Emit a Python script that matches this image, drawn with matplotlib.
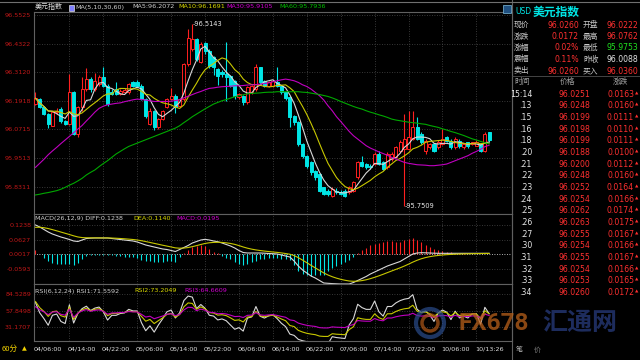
import numpy as np
import pandas as pd
import matplotlib
matplotlib.use("Agg")
import matplotlib.pyplot as plt
from matplotlib.patches import Rectangle, Ellipse

plt.rcParams['font.family'] = ['DejaVu Sans', 'Noto Sans CJK SC']
CJK = ['Noto Sans CJK SC', 'DejaVu Sans']

# 60-minute candles, USD index
opens = [96.178, 96.199, 96.166, 96.136, 96.087, 96.143, 96.157, 96.108, 96.094, 96.227,
         96.052, 96.164, 96.241, 96.283, 96.241, 96.262, 96.290, 96.255, 96.227, 96.241,
         96.220, 96.230, 96.227, 96.269, 96.269, 96.255, 96.199, 96.094, 96.150, 96.080,
         96.115, 96.164, 96.199, 96.213, 96.171, 96.199, 96.345, 96.410, 96.450, 96.353,
         96.436, 96.400, 96.374, 96.325, 96.311, 96.304, 96.297, 96.273, 96.206, 96.213,
         96.185, 96.227, 96.241, 96.332, 96.276, 96.255, 96.255, 96.269, 96.255, 96.227,
         96.206, 96.129, 96.101, 96.010, 95.961, 95.933, 95.898, 95.884, 95.828, 95.814,
         95.793, 95.814, 95.807, 95.814, 95.807, 95.814, 95.870, 95.933, 95.926, 95.919,
         95.926, 95.968, 95.933, 95.912, 95.947, 95.954, 95.982, 95.990, 95.989, 96.031,
         96.080, 96.052, 95.982, 95.996, 96.010, 95.996, 96.010, 96.038, 96.024, 95.996,
         96.024, 95.996, 96.017, 96.010, 96.003, 96.010, 95.982, 96.059]
closes = [96.202, 96.164, 96.136, 96.094, 96.143, 96.150, 96.108, 96.094, 96.227, 96.052,
          96.164, 96.241, 96.283, 96.241, 96.276, 96.290, 96.255, 96.178, 96.220, 96.220,
          96.234, 96.238, 96.262, 96.255, 96.255, 96.199, 96.129, 96.150, 96.080, 96.115,
          96.150, 96.199, 96.213, 96.164, 96.199, 96.345, 96.457, 96.450, 96.367, 96.430,
          96.400, 96.339, 96.332, 96.297, 96.304, 96.290, 96.255, 96.213, 96.220, 96.185,
          96.248, 96.255, 96.332, 96.269, 96.255, 96.269, 96.276, 96.255, 96.227, 96.203,
          96.122, 96.101, 96.010, 95.961, 95.919, 95.891, 95.870, 95.814, 95.800, 95.800,
          95.821, 95.807, 95.800, 95.793, 95.828, 95.849, 95.933, 95.919, 95.912, 95.912,
          95.968, 95.926, 95.905, 95.968, 95.968, 95.996, 96.017, 96.031, 96.038, 96.080,
          96.031, 96.017, 96.024, 96.010, 95.982, 96.017, 96.031, 96.024, 95.996, 96.031,
          96.003, 96.010, 96.003, 96.017, 96.017, 95.982, 96.052, 96.026]
highs = [96.229, 96.205, 96.170, 96.140, 96.150, 96.160, 96.165, 96.112, 96.305, 96.232,
         96.170, 96.290, 96.331, 96.290, 96.310, 96.300, 96.332, 96.262, 96.240, 96.272,
         96.240, 96.245, 96.268, 96.275, 96.280, 96.262, 96.205, 96.160, 96.155, 96.120,
         96.155, 96.205, 96.245, 96.220, 96.205, 96.350, 96.492, 96.5143, 96.455, 96.440,
         96.440, 96.410, 96.380, 96.330, 96.320, 96.437, 96.300, 96.280, 96.225, 96.215,
         96.255, 96.260, 96.345, 96.335, 96.280, 96.275, 96.280, 96.332, 96.260, 96.230,
         96.210, 96.130, 96.105, 96.015, 95.965, 95.940, 95.900, 95.890, 95.830, 95.820,
         95.830, 95.825, 95.815, 95.820, 95.835, 95.855, 95.940, 95.961, 95.930, 95.925,
         95.975, 95.980, 95.940, 95.975, 95.975, 96.000, 96.025, 96.136, 96.150, 96.150,
         96.122, 96.060, 96.030, 96.015, 96.015, 96.025, 96.073, 96.045, 96.030, 96.040,
         96.030, 96.015, 96.020, 96.020, 96.025, 96.015, 96.060, 96.062]
lows = [96.175, 96.160, 96.130, 96.076, 96.085, 96.135, 96.100, 96.088, 96.090, 96.050,
        96.040, 96.150, 96.235, 96.230, 96.235, 96.255, 96.250, 96.170, 96.215, 96.215,
        96.215, 96.225, 96.222, 96.250, 96.250, 96.195, 96.120, 96.090, 96.070, 96.075,
        96.110, 96.160, 96.195, 96.140, 96.165, 96.190, 96.340, 96.400, 96.360, 96.350,
        96.390, 96.330, 96.300, 96.260, 96.290, 96.190, 96.250, 96.200, 96.200, 96.175,
        96.180, 96.220, 96.235, 96.260, 96.250, 96.250, 96.250, 96.250, 96.220, 96.195,
        96.080, 96.090, 96.000, 95.950, 95.910, 95.880, 95.860, 95.810, 95.795, 95.790,
        95.788, 95.800, 95.795, 95.787, 95.800, 95.810, 95.865, 95.915, 95.905, 95.905,
        95.920, 95.920, 95.900, 95.905, 95.940, 95.950, 95.975, 95.7509, 95.985, 96.025,
        96.025, 96.010, 95.970, 95.990, 95.975, 95.990, 96.005, 96.020, 95.990, 95.990,
        95.995, 95.990, 95.995, 96.005, 96.000, 95.975, 95.975, 96.020]
ma30 = [95.912, 95.929, 95.946, 95.965, 95.981, 95.996, 96.012, 96.027, 96.042, 96.058,
        96.073, 96.088, 96.107, 96.125, 96.144, 96.160, 96.169, 96.175, 96.178, 96.181,
        96.183, 96.188, 96.192, 96.196, 96.199, 96.197, 96.195, 96.192, 96.189, 96.189,
        96.189, 96.189, 96.190, 96.193, 96.196, 96.204, 96.211, 96.218, 96.225, 96.231,
        96.238, 96.244, 96.246, 96.249, 96.251, 96.252, 96.253, 96.255, 96.255, 96.256,
        96.258, 96.259, 96.260, 96.262, 96.264, 96.267, 96.272, 96.276, 96.280, 96.283,
        96.280, 96.276, 96.269, 96.259, 96.252, 96.241, 96.227, 96.213, 96.195, 96.171,
        96.150, 96.125, 96.105, 96.084, 96.063, 96.045, 96.031, 96.017, 96.003, 95.993,
        95.985, 95.977, 95.970, 95.963, 95.954, 95.947, 95.940, 95.933, 95.929, 95.926,
        95.923, 95.922, 95.921, 95.919, 95.919, 95.921, 95.923, 95.926, 95.933, 95.940,
        95.947, 95.954, 95.961, 95.971, 95.979, 95.988, 95.999, 96.005]
ma60 = [95.796, 95.799, 95.803, 95.806, 95.810, 95.814, 95.820, 95.828, 95.837, 95.845,
        95.855, 95.866, 95.880, 95.891, 95.901, 95.915, 95.928, 95.940, 95.954, 95.968,
        95.979, 95.990, 96.000, 96.007, 96.014, 96.021, 96.028, 96.035, 96.042, 96.049,
        96.056, 96.063, 96.070, 96.077, 96.087, 96.100, 96.112, 96.125, 96.136, 96.147,
        96.158, 96.168, 96.178, 96.185, 96.192, 96.197, 96.203, 96.209, 96.213, 96.217,
        96.221, 96.223, 96.224, 96.225, 96.227, 96.228, 96.228, 96.230, 96.230, 96.230,
        96.230, 96.230, 96.230, 96.228, 96.227, 96.224, 96.221, 96.218, 96.214, 96.210,
        96.204, 96.197, 96.189, 96.182, 96.175, 96.168, 96.162, 96.157, 96.150, 96.144,
        96.139, 96.133, 96.128, 96.122, 96.115, 96.111, 96.108, 96.105, 96.102, 96.100,
        96.098, 96.095, 96.093, 96.088, 96.084, 96.080, 96.074, 96.069, 96.063, 96.058,
        96.052, 96.046, 96.039, 96.032, 96.027, 96.021, 96.016, 96.010]
# MACD DIFF line read per bar
diff = [0.1238, 0.1153, 0.1048, 0.0943, 0.0858, 0.0795, 0.0732, 0.0682, 0.0627, 0.0564,
        0.0543, 0.0606, 0.0669, 0.0682, 0.0690, 0.0690, 0.0690, 0.0690, 0.0669, 0.0648,
        0.0627, 0.0606, 0.0585, 0.0564, 0.0522, 0.0459, 0.0396, 0.0354, 0.0312, 0.0270,
        0.0228, 0.0206, 0.0164, 0.0122, 0.0206, 0.0290, 0.0375, 0.0480, 0.0543, 0.0606,
        0.0635, 0.0606, 0.0564, 0.0534, 0.0480, 0.0417, 0.0354, 0.0270, 0.0164, 0.0080,
        0.0059, 0.0059, 0.0059, 0.0059, 0.0051, 0.0038, 0.0030, 0.0017, -0.0025, -0.0067,
        -0.0109, -0.0277, -0.0488, -0.0656, -0.0782, -0.0909, -0.0993, -0.1098, -0.1203, -0.1216,
        -0.1228, -0.1237, -0.1245, -0.1245, -0.1245, -0.1182, -0.1098, -0.1014, -0.0930, -0.0824,
        -0.0740, -0.0656, -0.0572, -0.0488, -0.0425, -0.0362, -0.0299, -0.0193, -0.0088, 0.0017,
        0.0059, 0.0072, 0.0067, 0.0059, 0.0051, 0.0046, 0.0046, 0.0046, 0.0046, 0.0046,
        0.0046, 0.0046, 0.0046, 0.0046, 0.0046, 0.0046, 0.0046, 0.0046]

time_labels = ['04/06:00', '04/14:00', '04/22:00', '05/06:00', '05/14:00', '05/22:00', '06/06:00',
               '06/14:00', '06/22:00', '07/06:00', '07/14:00', '07/22:00', '10/06:00', '10/13:26']
label_bars = [3, 11, 19, 27, 35, 43, 51, 59, 67, 75, 83, 91, 99, 107]
grid_bars = [8, 16, 24, 32, 40, 48, 56, 64, 72, 80, 88, 96, 104]

price_levels = [96.5525, 96.4322, 96.3120, 96.1918, 96.0715, 95.9513, 95.8311]
macd_levels = [0.1238, 0.0627, 0.0017, -0.0593]
rsi_levels = [84.5289, 57.8498, 31.1707]

# first-bar indicator values shown in the panel titles
dea_first = 0.1140
rsi_first = {6: 71.5592, 12: 73.2049, 24: 64.6609}
rsi_avg_move = {6: 0.025, 12: 0.022, 24: 0.020}

quote_left = [('现价', '96.0260'), ('涨跌', '0.0172'), ('涨幅', '0.02%'), ('震幅', '0.11%'), ('卖出', '96.0260')]
quote_right = [('开盘', '96.0222'), ('最高', '96.0762'), ('最低', '95.9753'), ('昨收', '96.0088'), ('买入', '96.0360')]
quote_right_colors = ['#ff3030', '#ff3030', '#20e020', '#e0e0e0', '#ff3030']

tick_times = ['15:14', '.13', '.15', '.16', '.18', '.20', '.21', '.22', '.23', '.24', '.25', '.26',
              '.27', '.30', '.31', '.32', '.33', '.34']
tick_prices = ['96.0251', '96.0248', '96.0199', '96.0198', '96.0199', '96.0188', '96.0200', '96.0248',
               '96.0252', '96.0254', '96.0262', '96.0263', '96.0255', '96.0254', '96.0255', '96.0254',
               '96.0253', '96.0260']
tick_changes = ['0.0163', '0.0160', '0.0111', '0.0110', '0.0111', '0.0100', '0.0112', '0.0160',
                '0.0164', '0.0166', '0.0174', '0.0175', '0.0167', '0.0166', '0.0167', '0.0166',
                '0.0165', '0.0172']


def ema_from(values, n, first):
    out = [first]
    for v in values[1:]:
        out.append((2 * v + (n - 1) * out[-1]) / (n + 1))
    return np.array(out)


def rsi(c, n, first, move):
    ab = move
    up = first / 100 * move
    out = [first]
    for k in range(1, len(c)):
        d = c[k] - c[k - 1]
        up = (max(d, 0) + (n - 1) * up) / n
        ab = (abs(d) + (n - 1) * ab) / n
        out.append(100 * up / ab if ab > 0 else 50)
    return np.array(out)


df = pd.DataFrame({'open': opens, 'close': closes, 'high': highs, 'low': lows})
x = np.arange(len(df))
ma5 = df['close'].rolling(5, min_periods=1).mean()
ma10 = df['close'].rolling(10, min_periods=1).mean()
diff = np.array(diff)
dea = ema_from(diff, 9, dea_first)
macd = 2 * (diff - dea)
rsi1 = rsi(closes, 6, rsi_first[6], rsi_avg_move[6])
rsi2 = rsi(closes, 12, rsi_first[12], rsi_avg_move[12])
rsi3 = rsi(closes, 24, rsi_first[24], rsi_avg_move[24])

W, H = 640, 360
fig = plt.figure(figsize=(6.4, 3.6), dpi=100, facecolor='black')


def box(x0, y0, x1, y1):
    return [x0 / W, 1 - y1 / H, (x1 - x0) / W, (y1 - y0) / H]


def ftext(px, py, s, **kw):
    kw.setdefault('va', 'center')
    fig.text(px / W, 1 - py / H, s, **kw)


RED, CYAN = '#ff2020', '#00e5e5'
GRID = '#4a4a4a'
XLIM = (-0.35, 112.4)

ax = fig.add_axes(box(34, 12, 512, 214))
ax_m = fig.add_axes(box(34, 214, 512, 284))
ax_r = fig.add_axes(box(34, 284, 512, 341))

for a, lv in [(ax, price_levels), (ax_m, macd_levels), (ax_r, rsi_levels)]:
    a.set_facecolor('black')
    a.set_xlim(*XLIM)
    a.set_yticks(lv)
    a.set_yticklabels(['{:.4f}'.format(v) for v in lv], color='#c01818', fontsize=4.6)
    a.set_xticks(grid_bars)
    a.tick_params(axis='y', length=0, pad=2)
    a.tick_params(axis='x', length=0, labelbottom=False)
    a.grid(True, color=GRID, linestyle=(0, (1, 2)), linewidth=0.6)
    for s in a.spines.values():
        s.set_color('#606060')
        s.set_linewidth(0.8)

ax.set_ylim(95.7159, 96.5651)
ax_m.set_ylim(-0.1245, 0.1700)
ax_r.set_ylim(9.34, 101.5)

# candles
for i in x:
    o, c, h, l = opens[i], closes[i], highs[i], lows[i]
    col = RED if c >= o else CYAN
    ax.vlines(i, l, h, color=col, linewidth=0.8, zorder=2)
    ax.bar(i, max(abs(c - o), 0.0008), bottom=min(o, c), width=0.72,
           facecolor='black' if c >= o else CYAN, edgecolor=col, linewidth=0.7, zorder=3)

ax.plot(x, ma5, color='#d8d8d8', linewidth=0.8, zorder=4)
ax.plot(x, ma10, color='#c8c800', linewidth=0.8, zorder=4)
ax.plot(x, ma30, color='#c000c0', linewidth=0.8, zorder=4)
ax.plot(x, ma60, color='#00a800', linewidth=0.8, zorder=4)

hi_i = int(np.argmax(highs))
lo_i = int(np.argmin(lows))
ax.text(hi_i, highs[hi_i], '-{:.4f}'.format(highs[hi_i]), color='#e8e8e8', fontsize=4.8,
        va='center', ha='left', zorder=5)
ax.text(lo_i, lows[lo_i], '-{:.4f}'.format(lows[lo_i]), color='#e8e8e8', fontsize=4.8,
        va='center', ha='left', zorder=5)

# MACD
ax_m.axhline(0, color='#d0d0d0', linestyle=(0, (1, 2)), linewidth=0.6)
ax_m.vlines(x, 0, macd, colors=[RED if v >= 0 else CYAN for v in macd], linewidth=0.8)
ax_m.plot(x, diff, color='#d8d8d8', linewidth=0.8)
ax_m.plot(x, dea, color='#c8c800', linewidth=0.8)

# RSI
ax_r.plot(x, rsi1, color='#d8d8d8', linewidth=0.8)
ax_r.plot(x, rsi2, color='#c8c800', linewidth=0.8)
ax_r.plot(x, rsi3, color='#c000c0', linewidth=0.8)
ax_r.set_xticks(label_bars, minor=True)
ax_r.set_xticklabels(time_labels, minor=True)
ax_r.tick_params(axis='x', which='minor', length=0, labelbottom=True, labelsize=4.6,
                 labelcolor='#e0e0e0', pad=4)

# panel titles
ftext(35, 7, '美元指数', color='#e0e0e0', fontsize=5, family=CJK)
fig.add_artist(Rectangle((69 / W, 1 - 11 / H), 5 / W, 6 / H, transform=fig.transFigure,
                         facecolor='#8080ff', edgecolor='#e0e0e0', linewidth=0.5))
ftext(75, 7, 'MA(5,10,30,60)', color='#d0d0d0', fontsize=4.6)
ftext(132, 7, 'MA5:96.2072', color='#d0d0d0', fontsize=4.6)
ftext(178, 7, 'MA10:96.1691', color='#d8d800', fontsize=4.6)
ftext(226, 7, 'MA30:95.9105', color='#d000d0', fontsize=4.6)
ftext(279, 7, 'MA60:95.7936', color='#00c000', fontsize=4.6)
ftext(35, 219, 'MACD(26,12,9) DIFF:0.1238', color='#d0d0d0', fontsize=4.6)
ftext(133, 219, 'DEA:0.1140', color='#d8d800', fontsize=4.6)
ftext(176, 219, 'MACD:0.0195', color='#d000d0', fontsize=4.6)
ftext(35, 291, 'RSI(6,12,24) RSI1:71.5592', color='#d0d0d0', fontsize=4.6)
ftext(134, 291, 'RSI2:73.2049', color='#d8d800', fontsize=4.6)
ftext(184, 291, 'RSI3:64.6609', color='#d000d0', fontsize=4.6)
fig.add_artist(Rectangle((503 / W, 1 - 13 / H), 8 / W, 8 / H, transform=fig.transFigure,
                         facecolor='#205080', edgecolor='#80c0e0', linewidth=0.5))

ftext(2, 349, '60分', color='#f0d000', fontsize=5.5, family=CJK)
ftext(22, 349, '▲', color='#f0d000', fontsize=4.5)

# watermark
fig.add_artist(Ellipse((430 / W, 1 - 323 / H), 28 / W, 28 / H, transform=fig.transFigure,
                       facecolor='none', edgecolor='#2a4c8c', linewidth=3, alpha=0.7))
fig.add_artist(Ellipse((430 / W, 1 - 323 / H), 16 / W, 16 / H, transform=fig.transFigure,
                       facecolor='none', edgecolor='#b05818', linewidth=2.5, alpha=0.7))
ftext(458, 323, 'FX678', color='#b8601a', alpha=0.75, fontsize=17.5, fontweight='bold',
      family=['Roboto', 'DejaVu Sans'])
ftext(542, 323, '汇通网', color='#23346e', alpha=0.85, fontsize=18, fontweight='bold', family=CJK)

# right quote panel
fig.add_artist(plt.Line2D([512 / W, 512 / W], [0, 1], color='#606060', linewidth=0.8))
fig.add_artist(plt.Line2D([512 / W, 1], [1 - 76 / H, 1 - 76 / H], color='#505050', linewidth=0.6))
fig.add_artist(plt.Line2D([0, 1], [1 - 1.5 / H, 1 - 1.5 / H], color='#707070', linewidth=0.8))
ftext(515, 12, 'USD', color=CYAN, fontsize=5.5)
ftext(533, 12, '美元指数', color=CYAN, fontsize=8.5, fontweight='bold', family=CJK)
row_y = [25, 36.5, 48, 59.5, 71]
for k, ((lab, val), (lab2, val2)) in enumerate(zip(quote_left, quote_right)):
    ftext(514, row_y[k], lab, color='#c8c8c8', fontsize=5.6, family=CJK)
    ftext(579, row_y[k], val, color='#ff3030', fontsize=5.6, ha='right')
    ftext(583, row_y[k], lab2, color='#c8c8c8', fontsize=5.6, family=CJK)
    ftext(638, row_y[k], val2, color=quote_right_colors[k], fontsize=5.6, ha='right')
ftext(514, 82, '时间', color='#a0a0a0', fontsize=5.6, family=CJK)
ftext(560, 82, '价格', color='#a0a0a0', fontsize=5.6, family=CJK)
ftext(613, 82, '涨跌', color='#a0a0a0', fontsize=5.6, family=CJK)
for k, (t, p, c) in enumerate(zip(tick_times, tick_prices, tick_changes)):
    yy = 94.3 + k * 11.65
    ftext(532, yy, t, color='#e8e8e8', fontsize=5.6, ha='right')
    ftext(590, yy, p, color='#ff3030', fontsize=5.6, ha='right')
    ftext(634, yy, c, color='#ff3030', fontsize=5.6, ha='right')
    ftext(635, yy - 1, '▲', color='#ff3030', fontsize=3.2)

ftext(516, 350, '笔', color='#c0c0c0', fontsize=5, family=CJK)
ftext(534, 350, '价', color='#808080', fontsize=5, family=CJK)

fig.savefig('out.png', dpi=100, facecolor='black')
